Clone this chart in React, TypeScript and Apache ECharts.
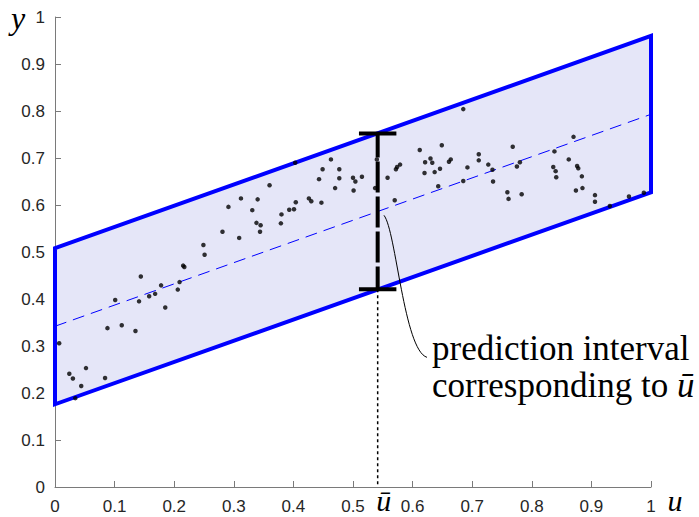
import React, { useEffect, useRef } from "react";
import * as echarts from "echarts";

// Scatter data (u, y)
const pointsU = [
  0.007, 0.024, 0.030, 0.034, 0.044, 0.052, 0.084, 0.088, 0.101, 0.112, 0.135, 0.141, 0.144, 0.158, 0.168, 0.178, 0.185, 0.206, 0.209,
  0.215, 0.217, 0.251, 0.249, 0.281, 0.309, 0.291, 0.312, 0.331, 0.340, 0.338, 0.345, 0.344, 0.360, 0.380, 0.379, 0.393,
  0.401, 0.404, 0.403, 0.426, 0.430, 0.447, 0.443, 0.449, 0.463, 0.477, 0.477, 0.470, 0.500, 0.504, 0.515, 0.501, 0.537, 0.540, 0.558,
  0.572, 0.574, 0.579, 0.570, 0.612, 0.621, 0.620, 0.630, 0.633, 0.637, 0.646, 0.643, 0.649, 0.661, 0.664, 0.685, 0.692, 0.685,
  0.711, 0.711, 0.727, 0.734, 0.735, 0.759, 0.761, 0.768, 0.780, 0.775, 0.783, 0.838, 0.836, 0.840, 0.841, 0.862, 0.870, 0.876, 0.878,
  0.884, 0.885, 0.874, 0.906, 0.906, 0.931, 0.963, 0.988,
];
const pointsY = [
  0.306, 0.241, 0.231, 0.189, 0.215, 0.253, 0.232, 0.338, 0.398, 0.344, 0.332, 0.395, 0.448, 0.406, 0.411, 0.429, 0.382, 0.420, 0.436,
  0.471, 0.468, 0.494, 0.515, 0.543, 0.530, 0.596, 0.614, 0.589, 0.612, 0.562, 0.557, 0.543, 0.642, 0.580, 0.561, 0.590,
  0.591, 0.606, 0.690, 0.614, 0.608, 0.605, 0.655, 0.676, 0.697, 0.676, 0.657, 0.636, 0.658, 0.650, 0.660, 0.631, 0.636, 0.697, 0.658,
  0.676, 0.681, 0.686, 0.610, 0.717, 0.691, 0.668, 0.699, 0.690, 0.670, 0.677, 0.640, 0.727, 0.692, 0.697, 0.804, 0.680, 0.651,
  0.708, 0.695, 0.686, 0.675, 0.650, 0.627, 0.613, 0.724, 0.691, 0.682, 0.623, 0.714, 0.681, 0.672, 0.659, 0.697, 0.745, 0.683, 0.678,
  0.661, 0.636, 0.631, 0.621, 0.607, 0.598, 0.618, 0.626,
];

// Prediction band (corners at u = 0 and u = 1)
const bandU = [0, 1];
const bandUpper = [0.508, 0.96];
const bandLower = [0.176, 0.627];
const fitLine = [0.342, 0.793];

// Prediction interval at u-bar
const uBar = 0.5414;
const intervalUpper = 0.752;
const intervalLower = 0.421;
const capHalfWidth = 0.0314;

// Annotation anchor (where the pointer curve starts)
const anchorU = 0.552;
const anchorY = 0.578;
const annotationLine1 = "prediction interval";
const annotationLine2 = "{n|corresponding to }{i|ū}";

const axisTicks = { min: 0, max: 1, interval: 0.1 };

const SERIF = "Liberation Serif";
const SANS = "Liberation Sans";

export default function App() {
  const ref = useRef<HTMLDivElement>(null);

  useEffect(() => {
    if (!ref.current) return;
    const chart = echarts.init(ref.current, null, { renderer: "svg" });
    const axisColor = "#7a7a7a";
    const labelStyle = {
      color: "#262626",
      fontSize: 17,
      fontFamily: SANS,
    };

    chart.setOption({
      animation: false,
      grid: { left: 55, right: 48, top: 17, bottom: 30 },
      xAxis: {
        type: "value",
        ...axisTicks,
        axisLine: { show: true, onZero: false, lineStyle: { color: axisColor, width: 1 } },
        axisTick: { show: true, inside: true, length: 6, lineStyle: { color: axisColor } },
        axisLabel: { ...labelStyle, margin: 11 },
        splitLine: { show: false },
      },
      yAxis: {
        type: "value",
        ...axisTicks,
        axisLine: { show: true, onZero: false, lineStyle: { color: axisColor, width: 1 } },
        axisTick: { show: true, inside: true, length: 6, lineStyle: { color: axisColor } },
        axisLabel: { ...labelStyle, margin: 10 },
        splitLine: { show: false },
      },
      series: [
        {
          type: "custom",
          z: 1,
          silent: true,
          data: [[0, 0]],
          renderItem: (_params: any, api: any) => {
            const pts = [
              api.coord([bandU[0], bandLower[0]]),
              api.coord([bandU[0], bandUpper[0]]),
              api.coord([bandU[1], bandUpper[1]]),
              api.coord([bandU[1], bandLower[1]]),
            ];
            return {
              type: "polygon",
              shape: { points: pts },
              style: { fill: "#e5e6f8", stroke: "#0000ff", lineWidth: 4, lineJoin: "miter" },
            };
          },
        },
        {
          type: "line",
          z: 2,
          data: bandU.map((u, i) => [u, fitLine[i]]),
          showSymbol: false,
          lineStyle: { color: "#0000ff", width: 1, type: [12, 7] },
        },
        {
          type: "scatter",
          z: 3,
          data: pointsU.map((u, i) => [u, pointsY[i]]),
          symbolSize: 4.5,
          itemStyle: { color: "#000000" },
        },
        {
          type: "line",
          z: 4,
          data: [
            [uBar, intervalLower],
            [uBar, 0],
          ],
          showSymbol: false,
          lineStyle: { color: "#000000", width: 1.5, type: [3, 3] },
        },
        {
          type: "line",
          z: 5,
          data: [
            [uBar, intervalUpper],
            [uBar, intervalLower],
          ],
          showSymbol: false,
          lineStyle: { color: "#000000", width: 4, type: [31, 4], dashOffset: 7, cap: "butt" },
        },
        {
          type: "line",
          z: 5,
          data: [
            [uBar - capHalfWidth, intervalUpper],
            [uBar + capHalfWidth, intervalUpper],
          ],
          showSymbol: false,
          lineStyle: { color: "#000000", width: 4, cap: "butt" },
        },
        {
          type: "line",
          z: 5,
          data: [
            [uBar - capHalfWidth, intervalLower],
            [uBar + capHalfWidth, intervalLower],
          ],
          showSymbol: false,
          lineStyle: { color: "#000000", width: 4, cap: "butt" },
        },
      ],
    });

    const A = chart.convertToPixel({ gridIndex: 0 }, [anchorU, anchorY]) as number[];
    const ub = chart.convertToPixel({ gridIndex: 0 }, [uBar, 0]) as number[];
    const yTop = chart.convertToPixel({ gridIndex: 0 }, [0, 1]) as number[];
    const xEnd = chart.convertToPixel({ gridIndex: 0 }, [1, 0]) as number[];
    const textX = A[0] + 48;

    chart.setOption({
      graphic: [
        {
          type: "bezierCurve",
          z: 10,
          shape: {
            x1: A[0],
            y1: A[1],
            cpx1: A[0] + 12,
            cpy1: A[1] + 15,
            cpx2: A[0] + 20,
            cpy2: A[1] + 135,
            x2: A[0] + 43,
            y2: A[1] + 142,
          },
          style: { stroke: "#000000", lineWidth: 1, fill: null },
        },
        {
          type: "text",
          z: 10,
          x: textX,
          y: A[1] + 133,
          style: {
            text: annotationLine1,
            fontSize: 35,
            fontFamily: SERIF,
            fill: "#000000",
            verticalAlign: "middle",
            align: "left",
          },
        },
        {
          type: "text",
          z: 10,
          x: textX,
          y: A[1] + 170,
          style: {
            text: annotationLine2,
            fontSize: 35,
            fontFamily: SERIF,
            fill: "#000000",
            verticalAlign: "middle",
            align: "left",
            rich: {
              n: { fontSize: 35, fontFamily: SERIF, fill: "#000000" },
              i: { fontStyle: "italic", fontSize: 35, fontFamily: SERIF, fill: "#000000" },
            },
          },
        },
        {
          type: "text",
          z: 10,
          x: 18,
          y: yTop[1] + 1,
          style: {
            text: "y",
            fontSize: 32,
            fontStyle: "italic",
            fontFamily: SERIF,
            fill: "#000000",
            align: "center",
            verticalAlign: "middle",
          },
        },
        {
          type: "text",
          z: 10,
          x: xEnd[0] + 24,
          y: xEnd[1] + 13,
          style: {
            text: "u",
            fontSize: 30,
            fontStyle: "italic",
            fontFamily: SERIF,
            fill: "#000000",
            align: "center",
            verticalAlign: "middle",
          },
        },
        {
          type: "text",
          z: 10,
          x: ub[0] + 6,
          y: ub[1] + 13,
          style: {
            text: "ū",
            fontSize: 30,
            fontStyle: "italic",
            fontFamily: SERIF,
            fill: "#000000",
            align: "center",
            verticalAlign: "middle",
          },
        },
      ],
    });

    return () => chart.dispose();
  }, []);

  return <div ref={ref} style={{ width: 699, height: 517, position: "absolute", left: 0, top: 0 }} />;
}
